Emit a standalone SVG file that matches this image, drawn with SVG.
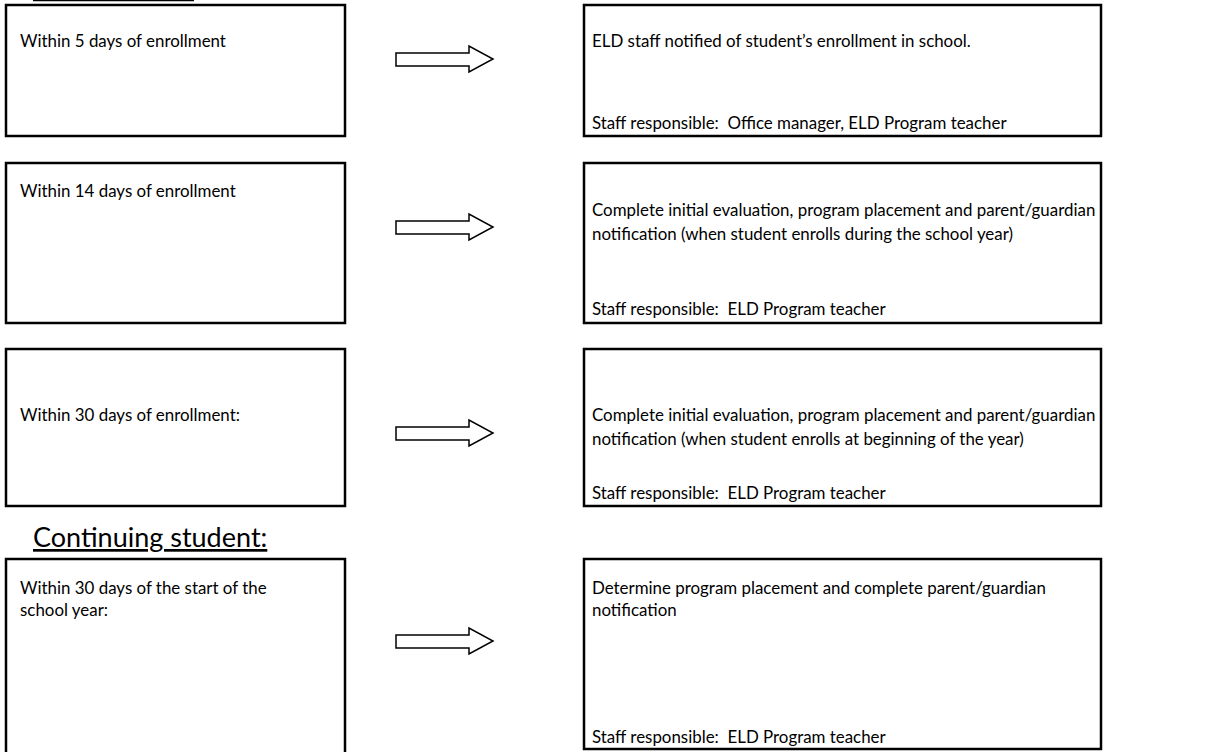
<svg xmlns="http://www.w3.org/2000/svg" width="1216" height="752" viewBox="0 0 1216 752">
<style>
.box{fill:#fff;stroke:#000;stroke-width:2.5}
.t{font-family:Lato,"Liberation Sans",sans-serif;font-size:16.9px;fill:#000;white-space:pre}
.h{font-family:Lato,"Liberation Sans",sans-serif;font-size:27px;fill:#000;text-decoration:underline}
.arr{fill:#fff;stroke:#000;stroke-width:1.5;stroke-linejoin:miter}
</style>
<rect width="1216" height="752" fill="#fff"/>
<line x1="33" y1="0.5" x2="194" y2="0.5" stroke="#000" stroke-width="1.5"/>
<g id="n1">
<rect class="box" x="6" y="5" width="339" height="131"/>
<text class="t" x="20" y="47">Within 5 days of enrollment</text>
</g>
<g id="n2">
<rect class="box" x="584" y="5" width="517" height="131"/>
<text class="t" x="592" y="47">ELD staff notified of student’s enrollment in school.</text>
<text class="t" x="592" y="129">Staff responsible:  Office manager, ELD Program teacher</text>
</g>
<g id="n3">
<rect class="box" x="6" y="163" width="339" height="160"/>
<text class="t" x="20" y="197">Within 14 days of enrollment</text>
</g>
<g id="n4">
<rect class="box" x="584" y="163" width="517" height="160"/>
<text class="t" x="592" y="216">Complete initial evaluation, program placement and parent/guardian</text>
<text class="t" x="592" y="240">notification (when student enrolls during the school year)</text>
<text class="t" x="592" y="315">Staff responsible:  ELD Program teacher</text>
</g>
<g id="n5">
<rect class="box" x="6" y="349" width="339" height="157"/>
<text class="t" x="20" y="421">Within 30 days of enrollment:</text>
</g>
<g id="n6">
<rect class="box" x="584" y="349" width="517" height="157"/>
<text class="t" x="592" y="421">Complete initial evaluation, program placement and parent/guardian</text>
<text class="t" x="592" y="445">notification (when student enrolls at beginning of the year)</text>
<text class="t" x="592" y="499">Staff responsible:  ELD Program teacher</text>
</g>
<text class="h" x="33" y="547">Continuing student:</text>
<g id="n7">
<rect class="box" x="6" y="559" width="339" height="200"/>
<text class="t" x="20" y="594">Within 30 days of the start of the</text>
<text class="t" x="20" y="616">school year:</text>
</g>
<g id="n8">
<rect class="box" x="584" y="559" width="517" height="190"/>
<text class="t" x="592" y="594">Determine program placement and complete parent/guardian</text>
<text class="t" x="592" y="616">notification</text>
<text class="t" x="592" y="743">Staff responsible:  ELD Program teacher</text>
</g>
<g id="connectors">
<path class="arr" d="M396,53 H469 V46 L493,59 L469,72 V66 H396 Z"/>
<path class="arr" d="M396,221 H469 V214 L493,227 L469,240 V234 H396 Z"/>
<path class="arr" d="M396,427 H469 V420 L493,433 L469,446 V440 H396 Z"/>
<path class="arr" d="M396,635 H469 V628 L493,641 L469,654 V648 H396 Z"/>
</g>
</svg>
